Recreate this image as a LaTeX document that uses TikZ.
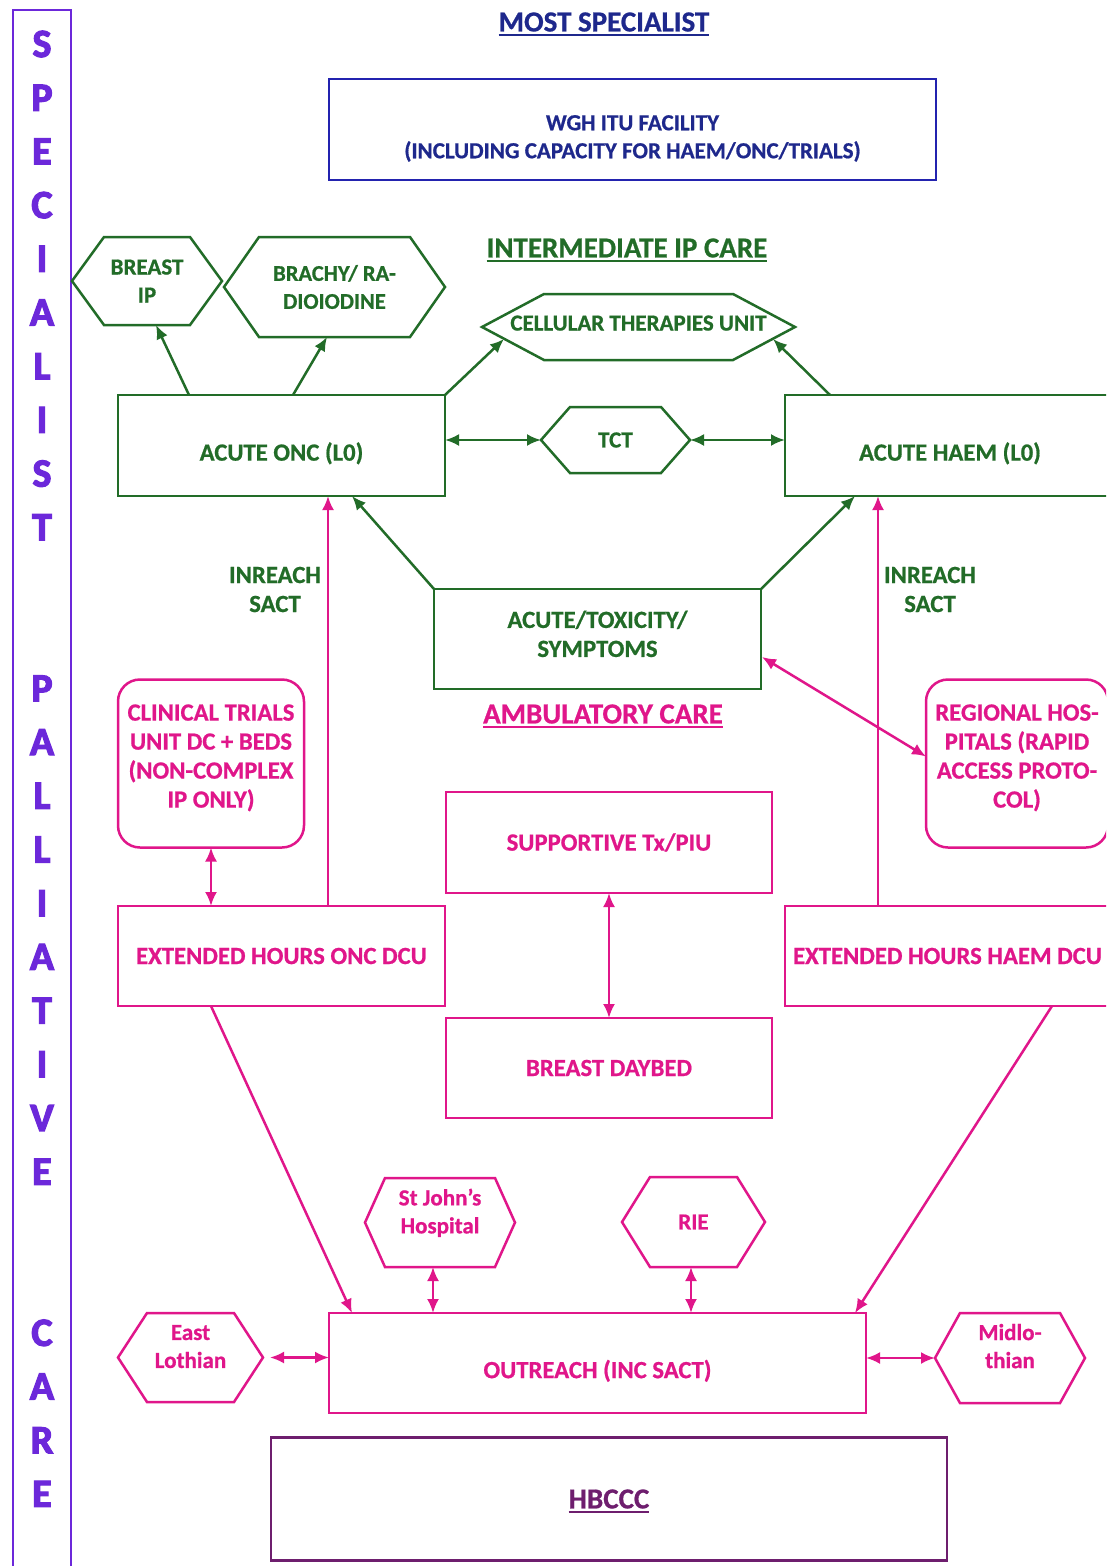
\documentclass[tikz,border=0pt]{standalone}
\usepackage{fontspec}
\setmainfont{Carlito}[BoldFont={Carlito Bold}, BoldFeatures={FakeBold=0.7}]
\newfontfamily\sidefont{Carlito Bold}[FakeBold=3]
\usetikzlibrary{arrows.meta,calc}

\definecolor{cgreen}{RGB}{34,108,40}
\definecolor{cmag}{RGB}{224,22,138}
\definecolor{cblueline}{RGB}{35,35,175}
\definecolor{cbluetext}{RGB}{30,40,140}
\definecolor{cviolet}{RGB}{108,40,218}
\definecolor{cplum}{RGB}{110,30,110}

\tikzset{
  x=1pt, y=-1pt,
  >={Latex[length=14pt,width=12pt]},
  boxfont/.style={font=\fontsize{24.7}{29}\selectfont\bfseries},
  hexfont/.style={font=\fontsize{23}{28}\selectfont\bfseries},
  box/.style={rectangle, outer sep=0pt, inner sep=2pt, line width=2.5pt, align=center, boxfont},
  gbox/.style={box, draw=cgreen, text=cgreen},
  mbox/.style={box, draw=cmag, text=cmag},
  rbox/.style={mbox, rounded corners=22pt},
  bbox/.style={box, draw=cblueline, text=cbluetext, hexfont},
  pbox/.style={box, draw=cplum},
  hexbox/.style={rectangle, outer sep=0pt, inner sep=0pt, align=center, hexfont},
  grn/.style={text=cgreen},
  grnline/.style={draw=cgreen, line width=2.5pt, line join=miter},
  mag/.style={text=cmag},
  magline/.style={draw=cmag, line width=2.5pt, line join=miter},
  heading/.style={inner sep=0pt, outer sep=0pt, font=\fontsize{29}{33}\selectfont\bfseries},
  uline/.style={line width=2pt},
  lbl/.style={inner sep=0pt, align=center, font=\fontsize{24.7}{29}\selectfont\bfseries},
  sideletter/.style={inner sep=0pt, text=cviolet, font=\fontsize{40}{44}\sidefont},
  garrow/.style={draw=cgreen, line width=2.5pt},
  marrow/.style={draw=cmag, line width=2.5pt},
  sunk/.style={text height=34pt},
}

% hexagon: colour, extra options, name, centre, width, height, slant, text
\newcommand\hexnode[8]{%
  \node[hexbox,#1,#2,minimum width=#5pt,minimum height=#6pt] (#3) at #4 {#8};
  \draw[#1line] (#3.west) -- ([xshift=#7pt]#3.north west) -- ([xshift=-#7pt]#3.north east)
    -- (#3.east) -- ([xshift=-#7pt]#3.south east) -- ([xshift=#7pt]#3.south west) -- cycle;
}

\begin{document}
\begin{tikzpicture}
\useasboundingbox (0,0) rectangle (1106,1566);
\clip (0,0) rectangle (1106,1566);
\fill[white] (0,0) rectangle (1106,1566);

% side column
\node[draw=cviolet, line width=2pt, minimum width=58pt, minimum height=1560pt, inner sep=0pt, outer sep=0pt] (sidebar) at (42,790) {};
\foreach \ch/\k [count=\n] in {S/0,P/1,E/2,C/3,I/4,A/5,L/6,I/7,S/8,T/9,
    P/12,A/13,L/14,L/15,I/16,A/17,T/18,I/19,V/20,E/21,
    C/24,A/25,R/26,E/27}
  \node[sideletter] (side\n) at (42,{44+\k*53.7}) {\ch};

% headings
\node[heading, text=cbluetext] (most) at (604,22) {MOST SPECIALIST};
\draw[uline, cbluetext] ([yshift=-4pt]most.base west) -- ([yshift=-4pt]most.base east);
\node[heading, text=cgreen] (inter) at (627,248) {INTERMEDIATE IP CARE};
\draw[uline, cgreen] ([yshift=-4pt]inter.base west) -- ([yshift=-4pt]inter.base east);
\node[heading, text=cmag] (amb) at (603,714) {AMBULATORY CARE};
\draw[uline, cmag] ([yshift=-4pt]amb.base west) -- ([yshift=-4pt]amb.base east);

% most specialist
\node[bbox, minimum width=607pt, minimum height=101pt, text height=61pt] (wgh) at (632.5,129.5)
  {WGH ITU FACILITY\\(INCLUDING CAPACITY FOR HAEM/ONC/TRIALS)};

% intermediate inpatient care
\hexnode{grn}{}{brip}{(147,281)}{150}{88}{32}{BREAST\\IP}
\hexnode{grn}{font=\fontsize{22.5}{28}\selectfont\bfseries}{brachy}{(334.5,287)}{221}{100}{35}{BRACHY/ RA-\\DIOIODINE}
\hexnode{grn}{text depth=8pt}{cell}{(638.5,327)}{313}{66}{62}{CELLULAR THERAPIES UNIT}
\hexnode{grn}{}{tct}{(615.5,440)}{149}{66}{29}{TCT}

\node[gbox, sunk, minimum width=327pt, minimum height=101pt] (onc) at (281.5,445.5) {ACUTE ONC (L0)};
\node[gbox, sunk, minimum width=330pt, minimum height=101pt] (haem) at (950,445.5) {ACUTE HAEM (L0)};
\node[gbox, text height=36pt, minimum width=327pt, minimum height=100pt] (tox) at (597.5,639) {ACUTE/TOXICITY/\\SYMPTOMS};

\node[lbl, grn] (inreachL) at (275,589.5) {INREACH\\SACT};
\node[lbl, grn] (inreachR) at (930,589.5) {INREACH\\SACT};

\draw[garrow, ->] (onc.north -| 189,0) -- (brip.south -| 156,0);
\draw[garrow, ->] (onc.north -| 293,0) -- (brachy.south -| 327,0);
\draw[garrow, ->] (onc.north east) -- ($(cell.west)+(22,12)$);
\draw[garrow, ->] (haem.north -| 830,0) -- ($(cell.east)+(-22,12)$);
\draw[garrow, <->] (tct.west -| onc.east) -- (tct.west);
\draw[garrow, <->] (tct.east) -- (tct.east -| haem.west);
\draw[garrow, ->] (tox.north west) -- (onc.south -| 352,0);
\draw[garrow, ->] (tox.north east) -- (haem.south -| 855,0);

% ambulatory care
\node[rbox, text depth=15pt, minimum width=186pt, minimum height=168pt] (trials) at (211,763.5)
  {CLINICAL TRIALS\\UNIT DC + BEDS\\(NON-COMPLEX\\IP ONLY)};
\node[rbox, text depth=15pt, minimum width=182pt, minimum height=168pt] (reg) at (1017,763.5)
  {REGIONAL HOS-\\PITALS (RAPID\\ACCESS PROTO-\\COL)};
\node[mbox, minimum width=326pt, minimum height=101pt] (supp) at (609,842.5) {SUPPORTIVE Tx/PIU};
\node[mbox, minimum width=326pt, minimum height=100pt] (bday) at (609,1068) {BREAST DAYBED};
\node[mbox, minimum width=327pt, minimum height=100pt] (eonc) at (281.5,956) {EXTENDED HOURS ONC DCU};
\node[mbox, minimum width=325pt, minimum height=100pt] (ehaem) at (947.5,956) {EXTENDED HOURS HAEM DCU};

\draw[marrow, ->] (eonc.north -| 328,0) -- (onc.south -| 328,0);
\draw[marrow, ->] (ehaem.north -| 878,0) -- (haem.south -| 878,0);
\draw[marrow, <->] (trials.south) -- (eonc.north -| trials.south);
\draw[marrow, <->] ($(tox.south east)+(1,-32)$) -- ($(reg.west)+(0,-7)$);
\draw[marrow, <->] (supp.south) -- (bday.north);

% outreach
\node[mbox, sunk, minimum width=537pt, minimum height=100pt] (out) at (597.5,1363) {OUTREACH (INC SACT)};
\hexnode{mag}{text depth=23pt}{sj}{(440,1222.5)}{150}{89}{20}{St John’s\\Hospital}
\hexnode{mag}{}{rie}{(693.5,1222)}{143}{90}{28}{RIE}
\hexnode{mag}{text depth=22pt}{elo}{(190.5,1357.5)}{145}{89}{29}{East\\Lothian}
\hexnode{mag}{text depth=24pt}{mid}{(1010,1358)}{150}{90}{25}{Midlo-\\thian}

\draw[marrow, ->] (eonc.south -| 211,0) -- (out.north -| 352,0);
\draw[marrow, ->] (ehaem.south -| 1052,0) -- (out.north -| 855,0);
\draw[marrow, <->] (sj.south -| 433,0) -- (out.north -| 433,0);
\draw[marrow, <->] (rie.south -| 691,0) -- (out.north -| 691,0);
\draw[marrow, <->, shorten <=7pt] (elo.east) -- (out.west |- elo.east);
\draw[marrow, <->] (out.east |- mid.west) -- (mid.west);

% community
\node[pbox, minimum width=676pt, minimum height=123pt] (hbccc) at (609,1499) {};
\node[heading, text=cplum] (hbccctext) at (hbccc.center) {HBCCC};
\draw[uline, cplum] ([yshift=-4pt]hbccctext.base west) -- ([yshift=-4pt]hbccctext.base east);
\end{tikzpicture}
\end{document}
